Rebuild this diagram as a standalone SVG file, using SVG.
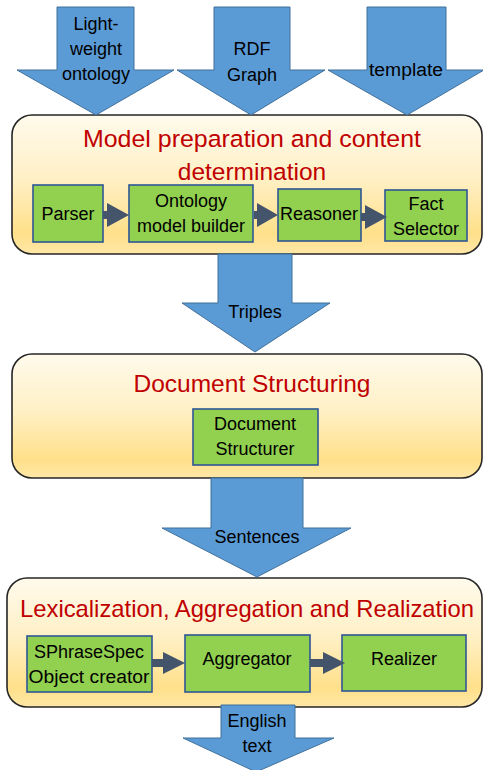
<svg xmlns="http://www.w3.org/2000/svg" width="483" height="770" viewBox="0 0 483 770">
<defs>
<linearGradient id="cream" x1="0" y1="0" x2="0" y2="1">
<stop offset="0" stop-color="#FFFAEC"/>
<stop offset="0.45" stop-color="#FFF0C6"/>
<stop offset="0.85" stop-color="#FFE08A"/>
<stop offset="1" stop-color="#FFE7A6"/>
</linearGradient>
<style>
.big{fill:#5B9BD5;stroke:#41719C;stroke-width:1}
.stage{fill:url(#cream);stroke:#262626;stroke-width:1.6}
.green{fill:#92D050;stroke:#2F5597;stroke-width:1.6}
.conn{fill:#44546A;stroke:none}
.t{font-family:"Liberation Sans",Arial,sans-serif;font-size:18px;fill:#000;text-anchor:middle}
.title{font-family:"Liberation Sans",Arial,sans-serif;font-size:24.5px;fill:#C00000;text-anchor:middle}
</style>
</defs>

<g id="stage1">
<rect class="stage" x="12" y="115" width="470" height="139" rx="20"/>
<text class="title" x="252" y="147" textLength="338" lengthAdjust="spacingAndGlyphs">Model preparation and content</text>
<text class="title" x="252" y="180">determination</text>
</g>
<g id="stage2">
<rect class="stage" x="12" y="354" width="470" height="124" rx="20"/>
<text class="title" x="252" y="392" textLength="237" lengthAdjust="spacingAndGlyphs">Document Structuring</text>
</g>
<g id="stage3">
<rect class="stage" x="7" y="578" width="475" height="129" rx="20"/>
<text class="title" x="247" y="617" style="font-size:23.6px" textLength="454" lengthAdjust="spacingAndGlyphs">Lexicalization, Aggregation and Realization</text>
</g>

<g id="in-ontology">
<polygon class="big" points="57,7 134,7 134,70 174,70 96,115 17,70 57,70"/>
<text class="t" x="96" y="30">Light-</text>
<text class="t" x="96" y="55">weight</text>
<text class="t" x="96" y="80">ontology</text>
</g>
<g id="in-rdf">
<polygon class="big" points="214,7 290,7 290,70 325,70 251,115 177,70 214,70"/>
<text class="t" x="252" y="55">RDF</text>
<text class="t" x="252" y="81">Graph</text>
</g>
<g id="in-template">
<polygon class="big" points="367,7 446,7 446,70 484,70 407,115 328,70 367,70"/>
<text class="t" x="406" y="76" textLength="74" lengthAdjust="spacingAndGlyphs">template</text>
</g>

<g id="parser">
<rect class="green" x="33" y="185" width="70" height="57"/>
<text class="t" x="68" y="220">Parser</text>
</g>
<g id="ontology-builder">
<rect class="green" x="129" y="185" width="124" height="57"/>
<text class="t" x="191" y="207">Ontology</text>
<text class="t" x="191" y="232">model builder</text>
</g>
<g id="reasoner">
<rect class="green" x="278" y="189" width="83" height="52"/>
<text class="t" x="319" y="220">Reasoner</text>
</g>
<g id="fact-selector">
<rect class="green" x="385" y="190" width="82" height="51"/>
<text class="t" x="426" y="210">Fact</text>
<text class="t" x="426" y="235">Selector</text>
</g>

<g id="triples">
<polygon class="big" points="218,254 292,254 292,303 330,303 255,352 182,303 218,303"/>
<text class="t" x="255" y="318">Triples</text>
</g>

<g id="document-structurer">
<rect class="green" x="193" y="409" width="125" height="56"/>
<text class="t" x="255" y="430">Document</text>
<text class="t" x="255" y="455">Structurer</text>
</g>

<g id="sentences">
<polygon class="big" points="211,478 303,478 303,528 351,528 257,577 162,528 211,528"/>
<text class="t" x="257" y="543">Sentences</text>
</g>

<g id="sphrasespec">
<rect class="green" x="27" y="636" width="125" height="56"/>
<text class="t" x="89" y="658">SPhraseSpec</text>
<text class="t" x="89" y="683" textLength="121" lengthAdjust="spacingAndGlyphs">Object creator</text>
</g>
<g id="aggregator">
<rect class="green" x="185" y="635" width="125" height="57"/>
<text class="t" x="247" y="665">Aggregator</text>
</g>
<g id="realizer">
<rect class="green" x="342" y="635" width="124" height="56"/>
<text class="t" x="404" y="665">Realizer</text>
</g>

<g id="english-text">
<polygon class="big" points="221,705 295,705 295,738 334,738 256,772 183,738 221,738"/>
<text class="t" x="257" y="727">English</text>
<text class="t" x="257" y="752">text</text>
</g>

<g id="connectors">
<polygon class="conn" points="103,211 107,211 107,203 129,215 107,227 107,219 103,219"/>
<polygon class="conn" points="254,211 257,211 257,203 278,215 257,227 257,219 254,219"/>
<polygon class="conn" points="361,213 365,213 365,205 387,217 365,229 365,221 361,221"/>
<polygon class="conn" points="152,659 163,659 163,652 185,663 163,674 163,667 152,667"/>
<polygon class="conn" points="310,659 323,659 323,652 345,663 323,674 323,667 310,667"/>
</g>
</svg>
